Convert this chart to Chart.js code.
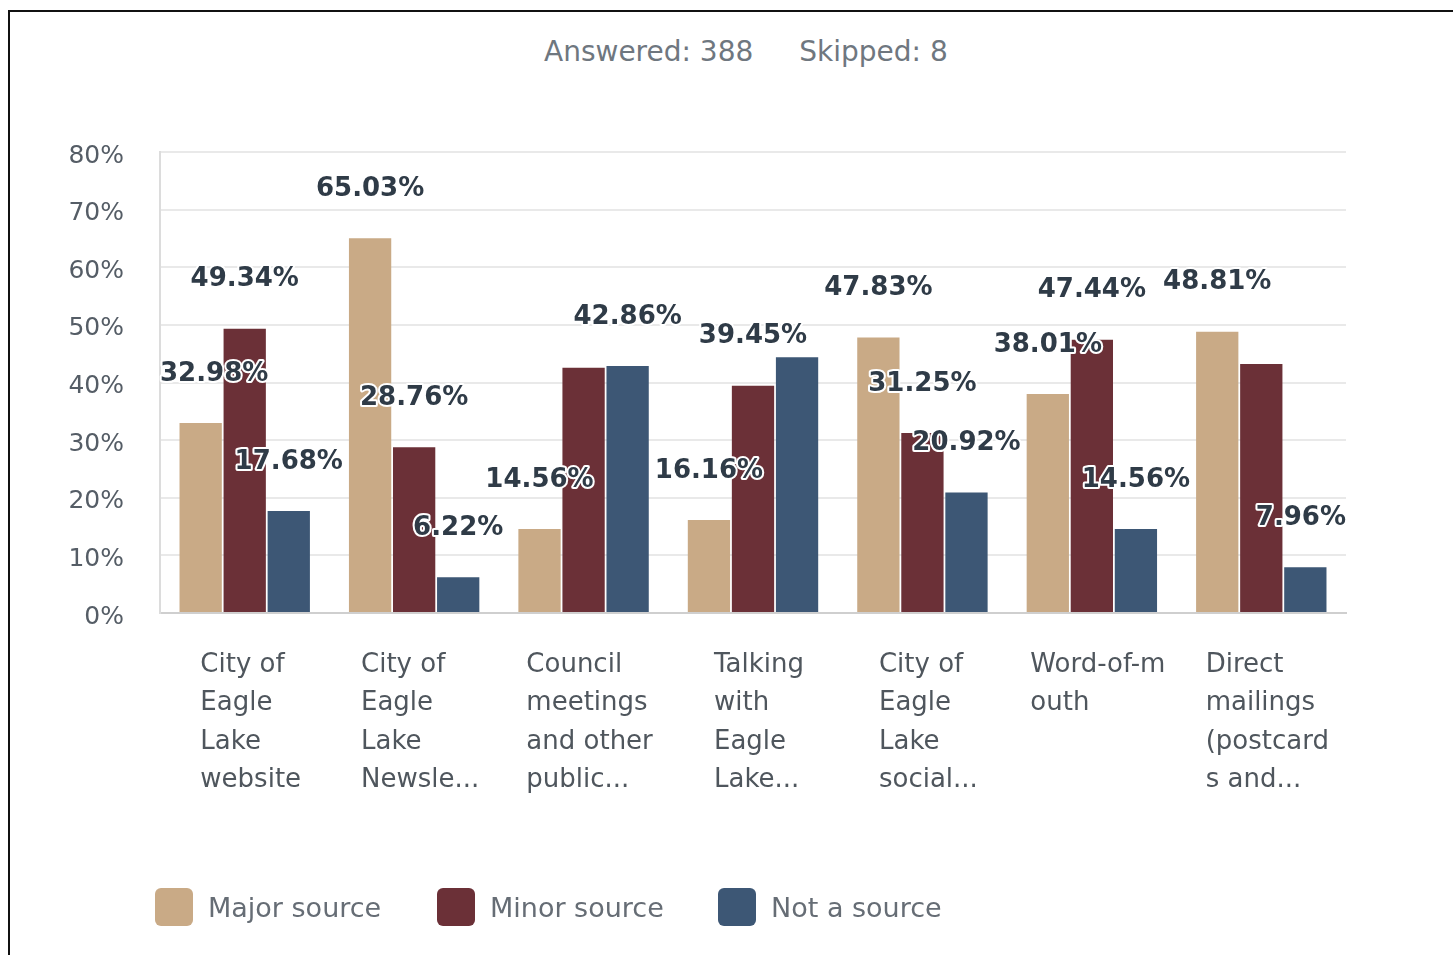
<!DOCTYPE html>
<html>
<head>
<meta charset="utf-8">
<script src="https://cdn.jsdelivr.net/npm/chart.js@4/dist/chart.umd.min.js"></script>
<style>
  html, body { margin: 0; padding: 0; background: #fff; overflow: hidden; }
  #frame { position: absolute; left: 8px; top: 10px; width: 1500px; height: 1000px; border: 2px solid #111; }
  #chart { position: absolute; left: 0; top: 0; }
  #title { position: absolute; left: 544px; top: 35px; white-space: nowrap;
    font: 28px "DejaVu Sans", sans-serif; color: #6f777f; }
  #title span + span { margin-left: 46px; }
  .leg { position: absolute; top: 888px; height: 38px; display: flex; align-items: center;
    font: 27px "DejaVu Sans", sans-serif; color: #666d75; }
  .leg i { display: inline-block; width: 38px; height: 38px; border-radius: 6px; margin-right: 15px; }
</style>
</head>
<body>
<div id="frame"></div>
<div id="title"><span>Answered: 388</span><span>Skipped: 8</span></div>
<canvas id="chart" width="1453" height="955"></canvas>
<div id="legend"></div>
<script>
// categories (already wrapped the way the survey export shows them)
const categories = [
  ['City of', 'Eagle', 'Lake', 'website'],
  ['City of', 'Eagle', 'Lake', 'Newsle...'],
  ['Council', 'meetings', 'and other', 'public...'],
  ['Talking', 'with', 'Eagle', 'Lake...'],
  ['City of', 'Eagle', 'Lake', 'social...'],
  ['Word-of-m', 'outh'],
  ['Direct', 'mailings', '(postcard', 's and...']
]
const seriesNames = ['Major source', 'Minor source', 'Not a source']
const majorSource = [32.98, 65.03, 14.56, 16.16, 47.83, 38.01, 48.81]
const minorSource = [49.34, 28.76, 42.58, 39.45, 31.25, 47.44, 43.23]
const notSource = [17.68, 6.22, 42.86, 44.39, 20.92, 14.56, 7.96]
const yTicks = [0, 10, 20, 30, 40, 50, 60, 70, 80]
// labels the original export dropped because they collided: [series, category]
const hiddenLabels = [[1, 2], [2, 3], [1, 6]]

const COLORS = ['#c9aa86', '#6b3037', '#3d5775']
const FONT = '"DejaVu Sans", sans-serif'

// html legend
const legend = document.getElementById('legend')
const legendX = [155, 437, 718]
seriesNames.forEach((name, i) => {
  let d = document.createElement('div')
  d.className = 'leg'
  d.style.left = legendX[i] + 'px'
  d.innerHTML = '<i style="background:' + COLORS[i] + '"></i>' + name
  legend.appendChild(d)
})

const valueLabels = {
  id: 'valueLabels',
  afterDatasetsDraw (chart) {
    const ctx = chart.ctx
    const area = chart.chartArea
    ctx.save()
    ctx.font = 'bold 26px ' + FONT
    ctx.textAlign = 'center'
    ctx.textBaseline = 'middle'
    ctx.lineJoin = 'round'
    chart.data.datasets.forEach((ds, di) => {
      chart.getDatasetMeta(di).data.forEach((bar, i) => {
        if (hiddenLabels.some(h => h[0] === di && h[1] === i)) return
        const txt = ds.data[i].toFixed(2) + '%'
        const half = ctx.measureText(txt).width / 2
        // keep the label inside the plot area, like the export does
        const x = Math.min(Math.max(bar.x, area.left + half), area.right - half)
        const y = bar.y - 49
        ctx.strokeStyle = '#fff'
        ctx.lineWidth = 4
        ctx.strokeText(txt, x, y)
        ctx.fillStyle = '#2f3b47'
        ctx.fillText(txt, x, y)
      })
    })
    ctx.restore()
  }
}

const categoryLabels = {
  id: 'categoryLabels',
  afterDraw (chart) {
    const ctx = chart.ctx
    const xs = chart.scales.x
    ctx.save()
    ctx.font = '26px ' + FONT
    ctx.fillStyle = '#4f565d'
    ctx.textAlign = 'left'
    ctx.textBaseline = 'middle'
    categories.forEach((lines, i) => {
      const cx = xs.getPixelForValue(i)
      const w = Math.max(...lines.map(l => ctx.measureText(l).width))
      const left = cx - w / 2 + 6
      lines.forEach((l, j) => {
        ctx.fillText(l, left, 665 + j * 38.5)
      })
    })
    ctx.restore()
  }
}

new Chart(document.getElementById('chart'), {
  type: 'bar',
  data: {
    labels: categories.map(c => c.join(' ')),
    datasets: [
      { label: seriesNames[0], data: majorSource, backgroundColor: COLORS[0] },
      { label: seriesNames[1], data: minorSource, backgroundColor: COLORS[1] },
      { label: seriesNames[2], data: notSource, backgroundColor: COLORS[2] }
    ]
  },
  options: {
    responsive: false,
    animation: false,
    devicePixelRatio: 1,
    layout: { padding: { left: 0, top: 152, right: 107, bottom: 0 } },
    datasets: { bar: { categoryPercentage: 0.78, barPercentage: 0.96 } },
    plugins: { legend: { display: false }, tooltip: { enabled: false } },
    scales: {
      x: {
        grid: { display: false },
        border: { color: '#cfcfcf', width: 2 },
        ticks: { display: false },
        afterFit: s => { s.height = 955 - 613 }
      },
      y: {
        min: 0,
        max: 80,
        afterBuildTicks: s => { s.ticks = yTicks.map(v => ({ value: v })) },
        ticks: {
          callback: v => v + '%',
          font: { family: FONT, size: 25 },
          color: '#555d66',
          padding: 36,
          labelOffset: 4
        },
        grid: { color: '#e9e9e9', lineWidth: 2, drawTicks: false },
        border: { color: '#dcdcdc', width: 2 },
        afterFit: s => { s.width = 160 }
      }
    }
  },
  plugins: [valueLabels, categoryLabels]
})
</script>
</body>
</html>
